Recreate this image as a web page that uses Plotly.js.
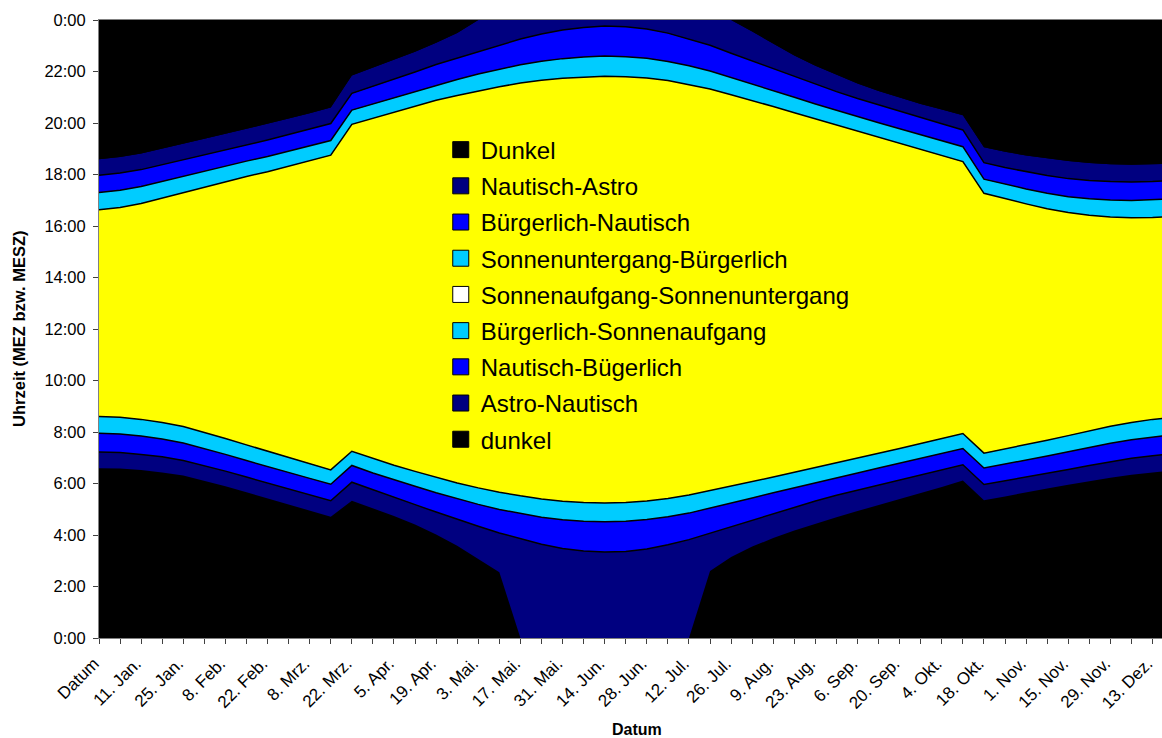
<!DOCTYPE html>
<html>
<head>
<meta charset="utf-8">
<script src="https://cdn.plot.ly/plotly-3.0.1.min.js"></script>
<style>
html,body{margin:0;padding:0;background:#ffffff;}
#chart{width:1162px;height:738px;}
</style>
</head>
<body>
<div id="chart"></div>
<script>
// Kategorien (wöchentlich)
const kategorien = ['Datum','4. Jan.','11. Jan.','18. Jan.','25. Jan.','1. Feb.','8. Feb.','15. Feb.','22. Feb.','1. Mrz.',
  '8. Mrz.','15. Mrz.','22. Mrz.','29. Mrz.','5. Apr.','12. Apr.','19. Apr.','26. Apr.','3. Mai.','10. Mai.',
  '17. Mai.','24. Mai.','31. Mai.','7. Jun.','14. Jun.','21. Jun.','28. Jun.','5. Jul.','12. Jul.','19. Jul.',
  '26. Jul.','2. Aug.','9. Aug.','16. Aug.','23. Aug.','30. Aug.','6. Sep.','13. Sep.','20. Sep.','27. Sep.',
  '4. Okt.','11. Okt.','18. Okt.','25. Okt.','1. Nov.','8. Nov.','15. Nov.','22. Nov.','29. Nov.','6. Dez.',
  '13. Dez.','20. Dez.'];

// Grenzen in Stunden (MEZ bzw. MESZ)
const astroMorgen = [6.59,6.58,6.52,6.43,6.31,6.11,5.89,5.66,5.42,5.19,4.95,4.71,5.33,5.04,4.74,4.41,4.02,3.58,3.08,2.55,
  0,0,0,0,0,0,0,0,0,2.60,3.15,3.55,3.88,4.17,4.44,4.69,4.93,5.16,5.39,5.62,5.86,6.12,5.35,5.50,5.66,5.81,5.95,6.09,6.22,6.34,6.44,6.52];
const nautischMorgen = [7.22,7.20,7.13,7.04,6.89,6.70,6.48,6.25,6.02,5.80,5.57,5.33,6.05,5.75,5.46,5.18,4.89,4.60,4.34,4.08,
  3.85,3.64,3.48,3.38,3.34,3.36,3.46,3.62,3.82,4.07,4.32,4.59,4.84,5.08,5.32,5.54,5.74,5.95,6.15,6.35,6.53,6.73,5.96,6.10,6.24,6.40,6.54,6.70,6.85,6.98,7.08,7.17];
const buergerlichMorgen = [7.95,7.92,7.84,7.73,7.57,7.36,7.13,6.89,6.65,6.43,6.20,5.97,6.70,6.41,6.14,5.89,5.64,5.40,5.19,4.99,
  4.83,4.69,4.59,4.53,4.51,4.53,4.60,4.71,4.85,5.04,5.23,5.44,5.64,5.84,6.04,6.23,6.41,6.60,6.79,6.98,7.16,7.36,6.60,6.75,6.90,7.07,7.23,7.40,7.56,7.70,7.81,7.90];
const sonnenaufgang = [8.60,8.57,8.49,8.37,8.21,7.99,7.75,7.50,7.25,7.01,6.77,6.53,7.25,6.97,6.71,6.47,6.24,6.02,5.83,5.66,
  5.52,5.40,5.31,5.26,5.24,5.26,5.32,5.42,5.55,5.72,5.89,6.07,6.25,6.44,6.62,6.80,6.98,7.17,7.36,7.55,7.74,7.94,7.18,7.34,7.50,7.68,7.86,8.04,8.22,8.37,8.49,8.57];
const sonnenuntergang = [16.63,16.72,16.87,17.08,17.30,17.51,17.72,17.92,18.11,18.33,18.54,18.75,19.95,20.18,20.41,20.65,20.88,21.07,21.25,21.41,
  21.55,21.66,21.74,21.79,21.82,21.80,21.75,21.65,21.50,21.32,21.10,20.88,20.64,20.40,20.16,19.92,19.68,19.45,19.22,18.98,18.74,18.50,17.27,17.05,16.86,16.67,16.52,16.42,16.35,16.32,16.33,16.38];
const buergerlichAbend = [17.30,17.39,17.53,17.73,17.94,18.13,18.33,18.52,18.70,18.91,19.11,19.32,20.50,20.74,20.98,21.23,21.48,21.69,21.90,22.09,
  22.26,22.40,22.50,22.56,22.60,22.57,22.51,22.39,22.22,22.02,21.77,21.52,21.26,21.00,20.74,20.49,20.24,20.01,19.78,19.55,19.31,19.08,17.82,17.62,17.44,17.27,17.14,17.06,17.01,16.99,17.01,17.06];
const nautischAbend = [17.97,18.06,18.19,18.38,18.59,18.77,18.97,19.16,19.34,19.55,19.76,19.98,21.15,21.42,21.69,21.98,22.27,22.52,22.78,23.03,
  23.26,23.46,23.61,23.71,23.77,23.74,23.65,23.49,23.27,23.02,22.71,22.41,22.10,21.80,21.50,21.22,20.95,20.70,20.46,20.22,19.97,19.73,18.46,18.27,18.11,17.96,17.84,17.77,17.73,17.71,17.73,17.77];
const astroAbend = [18.59,18.68,18.82,19.00,19.20,19.39,19.58,19.77,19.96,20.17,20.38,20.60,21.84,22.14,22.44,22.77,23.12,23.50,24,24,
  24,24,24,24,24,24,24,24,24,24,24,23.55,23.08,22.62,22.22,21.86,21.53,21.24,20.98,20.74,20.52,20.30,19.06,18.88,18.74,18.62,18.52,18.45,18.40,18.38,18.39,18.42];
const tagesende = kategorien.map(() => 24);

const yTickWerte = [0,2,4,6,8,10,12,14,16,18,20,22,24];
const yTickText = ['0:00','2:00','4:00','6:00','8:00','10:00','12:00','14:00','16:00','18:00','20:00','22:00','0:00'];

const SCHWARZ = '#000000', NAVY = '#000080', BLAU = '#0000FF', CYAN = '#00CCFF', GELB = '#FFFF00';
const FONT = 'Liberation Sans, Arial, sans-serif';

// Flächen (von unten nach oben)
const baender = [
  {name:'dunkel', y:astroMorgen, fill:'tozeroy', color:SCHWARZ, line:0},
  {name:'Astro-Nautisch', y:nautischMorgen, fill:'tonexty', color:NAVY, line:1.5},
  {name:'Nautisch-Bügerlich', y:buergerlichMorgen, fill:'tonexty', color:BLAU, line:1.5},
  {name:'Bürgerlich-Sonnenaufgang', y:sonnenaufgang, fill:'tonexty', color:CYAN, line:1.5},
  {name:'Sonnenaufgang-Sonnenuntergang', y:sonnenuntergang, fill:'tonexty', color:GELB, line:1.5},
  {name:'Sonnenuntergang-Bürgerlich', y:buergerlichAbend, fill:'tonexty', color:CYAN, line:1.5},
  {name:'Bürgerlich-Nautisch', y:nautischAbend, fill:'tonexty', color:BLAU, line:1.5},
  {name:'Nautisch-Astro', y:astroAbend, fill:'tonexty', color:NAVY, line:0},
  {name:'Dunkel', y:tagesende, fill:'tonexty', color:SCHWARZ, line:0}
];

const traces = baender.map(b => ({
  type:'scatter', mode:'lines', x:kategorien, y:b.y, name:b.name,
  fill:b.fill, fillcolor:b.color,
  line:{color:'#000000', width:b.line, shape:'linear'},
  showlegend:false, hoverinfo:'skip'
}));

// Legende (Reihenfolge wie im Original)
const legende = [
  ['Dunkel', SCHWARZ], ['Nautisch-Astro', NAVY], ['Bürgerlich-Nautisch', BLAU],
  ['Sonnenuntergang-Bürgerlich', CYAN], ['Sonnenaufgang-Sonnenuntergang', '#FFFFFF'],
  ['Bürgerlich-Sonnenaufgang', CYAN], ['Nautisch-Bügerlich', BLAU], ['Astro-Nautisch', NAVY], ['dunkel', SCHWARZ]
];
legende.forEach((l, i) => traces.push({
  type:'scatter', mode:'markers', x:[null], y:[null], name:l[0], legendgroup:'g'+i,
  marker:{symbol:'square', size:16, color:l[1], line:{color:'#000000', width:1}},
  showlegend:true, hoverinfo:'skip'
}));

const layout = {
  width:1162, height:738,
  margin:{l:99, r:0, t:20, b:100, pad:0},
  paper_bgcolor:'#ffffff', plot_bgcolor:'#000000',
  font:{family:FONT, color:'#000000'},
  showlegend:true,
  legend:{x:0.3215, y:0.826, xanchor:'left', yanchor:'top', bgcolor:'rgba(0,0,0,0)', borderwidth:0,
    font:{family:FONT, size:24, color:'#000000'}, traceorder:'grouped', tracegroupgap:2},
  xaxis:{type:'category', categoryorder:'array', categoryarray:kategorien, range:[0, 50.45],
    tickmode:'array', tickvals:kategorien, ticktext:kategorien.map((c,i) => i % 2 === 0 ? c : ''),
    tickangle:-45, ticks:'outside', ticklen:5, tickcolor:'#404040', tickwidth:1, ticklabelstandoff:3, ticklabelshift:-5,
    tickfont:{family:FONT, size:17, color:'#000000'},
    showline:true, linecolor:'#808080', linewidth:1, mirror:true,
    showgrid:false, zeroline:false, automargin:false, fixedrange:true},
  yaxis:{range:[0,24], tickmode:'array', tickvals:yTickWerte, ticktext:yTickText,
    ticks:'outside', ticklen:5, tickcolor:'#404040', tickwidth:1, ticklabelstandoff:4,
    tickfont:{family:FONT, size:16.5, color:'#000000'},
    showline:true, linecolor:'#808080', linewidth:1,
    showgrid:false, zeroline:false, automargin:false, fixedrange:true},
  annotations:[
    {text:'<b>Datum</b>', xref:'paper', yref:'paper', x:0.506, y:-0.148, xanchor:'center', yanchor:'middle',
      showarrow:false, font:{family:FONT, size:16, color:'#000000'}},
    {text:'<b>Uhrzeit (MEZ bzw. MESZ)</b>', xref:'paper', yref:'paper', x:-0.0753, y:0.5, xanchor:'center', yanchor:'middle',
      textangle:-90, showarrow:false, font:{family:FONT, size:16.5, color:'#000000'}}
  ]
};

Plotly.newPlot('chart', traces, layout, {displayModeBar:false, responsive:false, staticPlot:true});
</script>
</body>
</html>
